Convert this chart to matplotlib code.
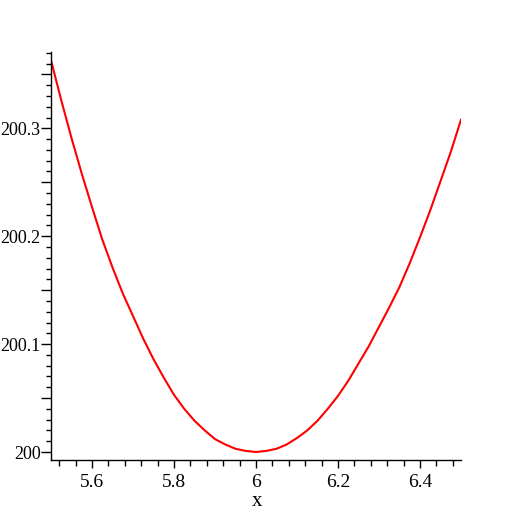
import matplotlib
matplotlib.use("Agg")
import matplotlib.pyplot as plt
from matplotlib.ticker import MultipleLocator, FuncFormatter

# Data
x_vals = [5.500, 5.525, 5.550, 5.575, 5.600, 5.625, 5.650, 5.675, 5.700, 5.725,
          5.750, 5.775, 5.800, 5.825, 5.850, 5.875, 5.900, 5.925, 5.950, 5.975,
          6.000, 6.025, 6.050, 6.075, 6.100, 6.125, 6.150, 6.175, 6.200, 6.225,
          6.250, 6.275, 6.300, 6.325, 6.350, 6.375, 6.400, 6.425, 6.450, 6.475,
          6.500]
y_vals = [200.363, 200.326, 200.291, 200.258, 200.227, 200.197, 200.171, 200.147,
          200.126, 200.105, 200.086, 200.069, 200.053, 200.040, 200.029, 200.020,
          200.012, 200.007, 200.003, 200.001, 200.000, 200.001, 200.003, 200.007,
          200.013, 200.020, 200.029, 200.040, 200.052, 200.066, 200.082, 200.098,
          200.116, 200.134, 200.153, 200.175, 200.199, 200.224, 200.251, 200.278,
          200.308]
x_ticks = [5.6, 5.8, 6.0, 6.2, 6.4]
x_tick_labels = ["5.6", "5.8", "6", "6.2", "6.4"]
y_label_ticks = [200.0, 200.1, 200.2, 200.3]
y_tick_labels = ["200", "200.1", "200.2", "200.3"]

fig = plt.figure(figsize=(5.12, 5.12), dpi=100)
ax = fig.add_axes([51/512, 1-460/512, 410/512, 408/512])
ax.plot(x_vals, y_vals, color="#ff0000", lw=1.5)

ax.set_xlim(5.5, 6.5)
ax.set_ylim(199.9926, 200.3707)

for s in ["top", "right"]:
    ax.spines[s].set_visible(False)
for s in ["left", "bottom"]:
    ax.spines[s].set_linewidth(1.0)

serif = "Liberation Serif"
ax.set_xticks(x_ticks)
ax.set_xticklabels(x_tick_labels, fontfamily=serif, fontsize=14)
ax.xaxis.set_minor_locator(MultipleLocator(0.04))

ax.yaxis.set_major_locator(MultipleLocator(0.05))
lab = dict(zip([round(v, 2) for v in y_label_ticks], y_tick_labels))
ax.yaxis.set_major_formatter(FuncFormatter(lambda v, p: lab.get(round(v, 2), "")))
ax.yaxis.set_minor_locator(MultipleLocator(0.01))
ax.tick_params(axis="y", which="major", length=7.5, width=1, pad=0, labelsize=13)
ax.tick_params(axis="y", which="minor", length=3.3, width=1)
ax.tick_params(axis="x", which="major", length=6, width=1, pad=4)
ax.tick_params(axis="x", which="minor", length=4, width=1)
for t in ax.get_yticklabels():
    t.set_fontfamily(serif)

fig.text(256.7/512, 1-501/512, "x", fontfamily=serif, fontsize=15,
         ha="center", va="center")

fig.savefig("out.png", dpi=100)
